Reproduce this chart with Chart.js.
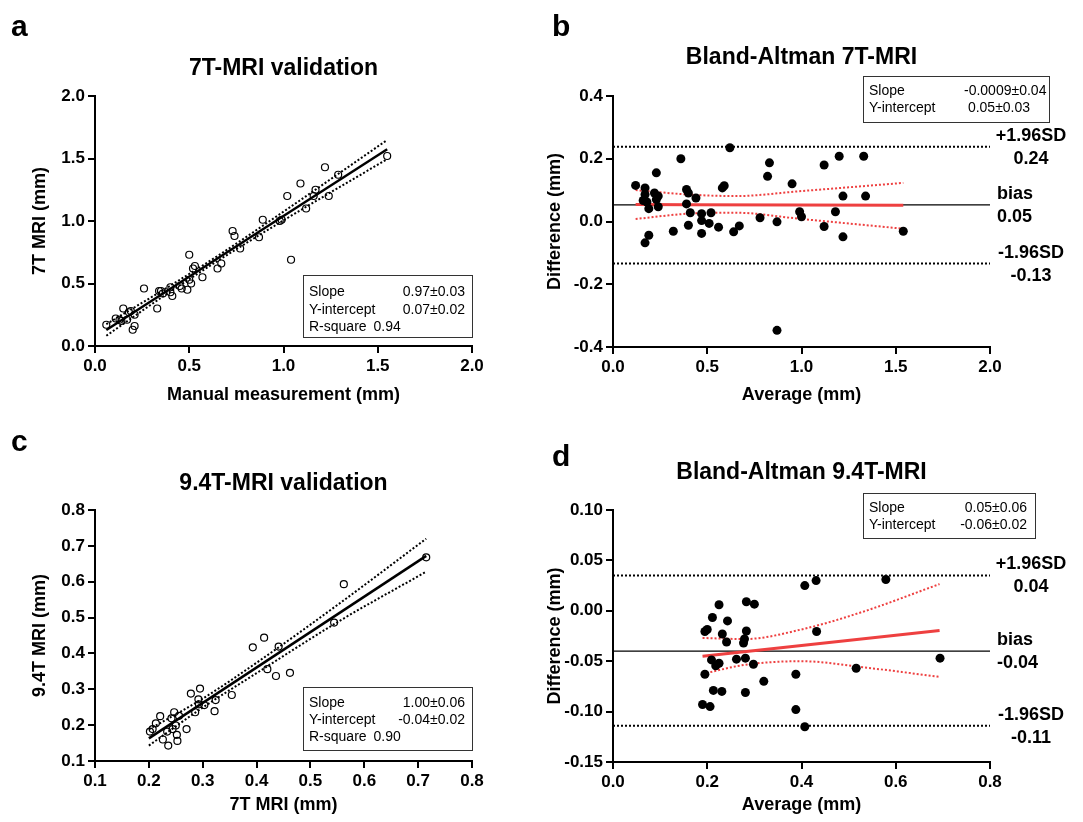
<!DOCTYPE html>
<html>
<head>
<meta charset="utf-8">
<title>7T / 9.4T MRI validation</title>
<script src="https://cdn.jsdelivr.net/npm/chart.js@4.4.0/dist/chart.umd.min.js"></script>
<style>
  html, body { margin: 0; padding: 0; background: #fff; }
  #page { position: relative; width: 1083px; height: 822px; overflow: hidden; }
  canvas { position: absolute; }
</style>
</head>
<body>
<div id="page">
  <canvas id="chartA" width="540" height="420" style="left:0px;top:0px"></canvas>
  <canvas id="chartB" width="543" height="420" style="left:540px;top:0px"></canvas>
  <canvas id="chartC" width="540" height="412" style="left:0px;top:410px"></canvas>
  <canvas id="chartD" width="543" height="412" style="left:540px;top:410px"></canvas>
</div>
<script>
const FONT = '"Liberation Sans", Arial, Helvetica, sans-serif';
const RED = 'rgb(238, 64, 64)';

// Panel a: manual measurement vs 7T MRI (mm)
const aX = [0.06, 0.11, 0.13, 0.14, 0.15, 0.17, 0.18, 0.19, 0.20, 0.21, 0.21, 0.26, 0.33, 0.34, 0.35, 0.36, 0.40, 0.40, 0.41, 0.45,
            0.46, 0.49, 0.50, 0.50, 0.51, 0.52, 0.53, 0.57, 0.65, 0.67, 0.73, 0.74, 0.77, 0.87, 0.89, 0.98, 0.99, 1.02, 1.04, 1.09,
            1.12, 1.16, 1.17, 1.22, 1.24, 1.29, 1.55];
const aY = [0.17, 0.22, 0.21, 0.20, 0.30, 0.21, 0.27, 0.28, 0.13, 0.16, 0.25, 0.46, 0.30, 0.44, 0.44, 0.42, 0.47, 0.43, 0.40, 0.48,
            0.46, 0.45, 0.73, 0.53, 0.50, 0.62, 0.64, 0.55, 0.62, 0.66, 0.92, 0.88, 0.78, 0.87, 1.01, 1.00, 1.01, 1.20, 0.69, 1.30,
            1.10, 1.20, 1.25, 1.43, 1.20, 1.37, 1.52];
const aFitX = [0.06, 1.55];
const aFitY = [0.128, 1.574];
const aBandX = [0.06, 0.35, 0.65, 1.0, 1.55];
const aBandUpper = [0.175, 0.437, 0.72, 1.075, 1.648];
const aBandLower = [0.082, 0.385, 0.68, 1.005, 1.495];

// Panel b: Bland-Altman 7T-MRI
const bAvg = [0.12, 0.17, 0.17, 0.16, 0.18, 0.19, 0.17, 0.19, 0.22, 0.23, 0.23, 0.24, 0.24, 0.32, 0.36, 0.39, 0.40, 0.39, 0.44, 0.41,
              0.40, 0.47, 0.47, 0.47, 0.51, 0.52, 0.56, 0.58, 0.59, 0.62, 0.64, 0.67, 0.78, 0.82, 0.83, 0.87, 0.87, 0.95, 0.99, 1.00,
              1.12, 1.12, 1.18, 1.20, 1.22, 1.22, 1.33, 1.34, 1.54];
const bDiff = [0.115, 0.107, 0.086, 0.067, 0.062, 0.041, -0.068, -0.044, 0.091, 0.155, 0.070, 0.081, 0.047, -0.031, 0.20, 0.102, 0.091, 0.056, 0.075, 0.028,
               -0.012, 0.025, 0.003, -0.038, -0.006, 0.028, -0.018, 0.107, 0.114, 0.235, -0.033, -0.014, 0.012, 0.144, 0.187, -0.001, -0.347, 0.12, 0.031, 0.015,
               0.18, -0.016, 0.031, 0.208, 0.081, -0.049, 0.208, 0.081, -0.031];
const bFitX = [0.12, 1.54];
const bFitY = [0.054, 0.052];
const bBandX = [0.12, 0.4, 0.65, 1.0, 1.54];
const bBandUpper = [0.100, 0.086, 0.081, 0.097, 0.123];
const bBandLower = [0.008, 0.025, 0.028, 0.008, -0.023];
const bRefX = [0, 2.0];
const bRefLines = [0.238, 0.053, -0.134];   // +1.96SD, bias, -1.96SD
const bRefLabels = [['+1.96SD', '0.24'], ['bias', '0.05'], ['-1.96SD', '-0.13']];

// Panel c: 7T MRI vs 9.4T MRI (mm)
const cX = [0.202, 0.207, 0.213, 0.221, 0.226, 0.234, 0.236, 0.242, 0.244, 0.247, 0.25, 0.252, 0.253, 0.256, 0.27, 0.278, 0.286, 0.292, 0.293, 0.295,
            0.303, 0.322, 0.324, 0.354, 0.393, 0.414, 0.42, 0.436, 0.441, 0.462, 0.544, 0.562, 0.715];
const cY = [0.182, 0.189, 0.205, 0.225, 0.160, 0.182, 0.143, 0.219, 0.189, 0.236, 0.199, 0.173, 0.156, 0.226, 0.189, 0.288, 0.236, 0.272, 0.258, 0.302,
            0.256, 0.239, 0.270, 0.284, 0.417, 0.444, 0.356, 0.337, 0.419, 0.346, 0.486, 0.593, 0.668];
const cFitX = [0.2, 0.715];
const cFitY = [0.163, 0.672];
const cBandX = [0.2, 0.3, 0.4, 0.55, 0.715];
const cBandUpper = [0.188, 0.274, 0.374, 0.535, 0.720];
const cBandLower = [0.143, 0.249, 0.345, 0.487, 0.628];

// Panel d: Bland-Altman 9.4T-MRI
const dAvg = [0.19, 0.206, 0.195, 0.20, 0.211, 0.225, 0.232, 0.243, 0.241, 0.209, 0.218, 0.225, 0.195, 0.213, 0.231, 0.262, 0.277, 0.279, 0.283, 0.283,
              0.30, 0.281, 0.298, 0.281, 0.32, 0.388, 0.388, 0.407, 0.431, 0.432, 0.407, 0.516, 0.579, 0.694];
const dDiff = [-0.093, -0.095, -0.0205, -0.0185, -0.0066, 0.006, -0.023, -0.010, -0.031, -0.0487, -0.0546, -0.052, -0.063, -0.079, -0.080, -0.048, -0.032, -0.028, -0.020, 0.009,
               0.0066, -0.047, -0.053, -0.081, -0.070, -0.063, -0.098, 0.025, 0.030, -0.0205, -0.115, -0.057, 0.031, -0.047];
const dFitX = [0.19, 0.693];
const dFitY = [-0.045, -0.0195];
const dBandX = [0.19, 0.28, 0.4, 0.53, 0.693];
const dBandUpper = [-0.027, -0.028, -0.0185, -0.001, 0.0265];
const dBandLower = [-0.0626, -0.0536, -0.050, -0.056, -0.0655];
const dRefX = [0, 0.8];
const dRefLines = [0.035, -0.040, -0.114];
const dRefLabels = [['+1.96SD', '0.04'], ['bias', '-0.04'], ['-1.96SD', '-0.11']];

// helpers
function pts(xs, ys) {
    return xs.map((x, i) => ({ x: x, y: ys[i] }));
}

function scatterSet(xs, ys, filled) {
    return {
        data: pts(xs, ys),
        showLine: false,
        pointStyle: 'circle',
        pointRadius: filled ? 4.5 : 3.5,
        pointBorderWidth: filled ? 0 : 1.2,
        pointBorderColor: '#000',
        pointBackgroundColor: filled ? '#000' : 'rgba(255,255,255,0)'
    };
}

function lineSet(xs, ys, color, width, dashed) {
    return {
        data: pts(xs, ys),
        showLine: true,
        pointRadius: 0,
        borderColor: color,
        borderWidth: width,
        borderDash: dashed ? [2, 2] : [],
        cubicInterpolationMode: 'monotone',
        fill: false
    };
}

function axis(min, max, step, digits, title) {
    return {
        type: 'linear',
        min: min,
        max: max,
        ticks: {
            stepSize: step,
            color: '#000',
            padding: 3,
            font: { family: FONT, size: 17, weight: 'bold' },
            callback: v => (Math.abs(v) < 1e-9 ? 0 : v).toFixed(digits)
        },
        grid: { drawOnChartArea: false, drawTicks: true, tickLength: 7, color: '#000', lineWidth: 2 },
        border: { display: true, color: '#000', width: 2 },
        title: { display: true, text: title, color: '#000', padding: 4, font: { family: FONT, size: 18, weight: 'bold' } }
    };
}

// letters, titles, stat boxes and the SD labels
const panelText = {
    id: 'panelText',
    afterDraw(chart, args, o) {
        const ctx = chart.ctx;
        const ca = chart.chartArea;
        ctx.save();
        ctx.fillStyle = '#000';

        ctx.font = 'bold 30px ' + FONT;
        ctx.textAlign = 'left';
        ctx.textBaseline = 'alphabetic';
        ctx.fillText(o.letter, o.letterX, o.letterY);

        ctx.font = 'bold 23px ' + FONT;
        ctx.textAlign = 'center';
        ctx.textBaseline = 'middle';
        ctx.fillText(o.title, (ca.left + ca.right) / 2, o.titleY);

        const b = o.box;
        ctx.fillStyle = '#fff';
        ctx.fillRect(b.x, b.y, b.w, b.h);
        ctx.strokeStyle = '#333';
        ctx.lineWidth = 1;
        ctx.strokeRect(b.x + 0.5, b.y + 0.5, b.w, b.h);
        ctx.fillStyle = '#000';
        ctx.font = '14px ' + FONT;
        b.rows.forEach((row, i) => {
            const y = b.y + b.rowY[i];
            ctx.textAlign = 'left';
            ctx.fillText(row[0], b.x + 6, y);
            if (row[1]) {
                ctx.textAlign = b.valueAlign;
                ctx.fillText(row[1], b.x + b.valueX, y);
            }
            if (row[2]) {
                // value written right after its label, as in "R-square  0.94"
                ctx.textAlign = 'left';
                ctx.fillText(row[2], b.x + 6 + ctx.measureText(row[0]).width + 7, y);
            }
        });

        if (o.refLines) {
            const ys = chart.scales.y;
            ctx.font = 'bold 18px ' + FONT;
            o.refLines.forEach((v, i) => {
                const py = ys.getPixelForValue(v);
                const lab = o.refLabels[i];
                if (i === 1) {
                    ctx.textAlign = 'left';
                    ctx.fillText(lab[0], o.biasX, py - 11);
                    ctx.fillText(lab[1], o.biasX, py + 12);
                } else {
                    ctx.textAlign = 'center';
                    ctx.fillText(lab[0], o.sdX, py - 11);
                    ctx.fillText(lab[1], o.sdX, py + 12);
                }
            });
        }
        ctx.restore();
    }
};

function makePanel(id, o) {
    const canvas = document.getElementById(id);
    const W = canvas.width, H = canvas.height;
    const titleOffset = 4 + 18 * 1.2 / 2;
    const padLeft = Math.max(0, o.yTitleX - titleOffset);
    const yWidth = o.area.left - padLeft;
    const xHeight = o.xTitleY + titleOffset - o.area.bottom;

    const xAxis = axis(o.x[0], o.x[1], o.x[2], o.x[3], o.xTitle);
    xAxis.afterFit = s => { s.height = xHeight; };
    const yAxis = axis(o.y[0], o.y[1], o.y[2], o.y[3], o.yTitle);
    yAxis.afterFit = s => { s.width = yWidth; };

    return new Chart(canvas, {
        type: 'scatter',
        data: { datasets: o.datasets },
        options: {
            responsive: false,
            animation: false,
            devicePixelRatio: 1,
            layout: {
                padding: {
                    left: padLeft,
                    right: W - o.area.right,
                    top: o.area.top,
                    bottom: H - o.area.bottom - xHeight
                }
            },
            scales: { x: xAxis, y: yAxis },
            plugins: {
                legend: { display: false },
                tooltip: { enabled: false },
                panelText: o.text
            }
        },
        plugins: [panelText]
    });
}

// a
makePanel('chartA', {
    area: { left: 95, right: 472, top: 96, bottom: 346 },
    yTitleX: 40, xTitleY: 395,
    x: [0, 2.0, 0.5, 1], y: [0, 2.0, 0.5, 1],
    xTitle: 'Manual measurement (mm)', yTitle: '7T MRI (mm)',
    datasets: [
        scatterSet(aX, aY, false),
        lineSet(aFitX, aFitY, '#000', 2.5, false),
        lineSet(aBandX, aBandUpper, '#000', 2, true),
        lineSet(aBandX, aBandLower, '#000', 2, true)
    ],
    text: {
        letter: 'a', letterX: 11, letterY: 36,
        title: '7T-MRI validation', titleY: 69,
        box: {
            x: 303, y: 275, w: 169, h: 62, rowY: [17, 35, 52],
            valueAlign: 'right', valueX: 162,
            rows: [['Slope', '0.97\u00b10.03'], ['Y-intercept', '0.07\u00b10.02'], ['R-square', '', '0.94']]
        }
    }
});

// b
makePanel('chartB', {
    area: { left: 73, right: 450, top: 96, bottom: 347 },
    yTitleX: 15, xTitleY: 395,
    x: [0, 2.0, 0.5, 1], y: [-0.4, 0.4, 0.2, 1],
    xTitle: 'Average (mm)', yTitle: 'Difference (mm)',
    datasets: [
        scatterSet(bAvg, bDiff, true),
        lineSet(bFitX, bFitY, RED, 3, false),
        lineSet(bBandX, bBandUpper, RED, 2, true),
        lineSet(bBandX, bBandLower, RED, 2, true),
        lineSet(bRefX, [bRefLines[0], bRefLines[0]], '#000', 2, true),
        lineSet(bRefX, [bRefLines[1], bRefLines[1]], '#000', 1.3, false),
        lineSet(bRefX, [bRefLines[2], bRefLines[2]], '#000', 2, true)
    ],
    text: {
        letter: 'b', letterX: 12, letterY: 36,
        title: 'Bland-Altman 7T-MRI', titleY: 58,
        box: {
            x: 323, y: 76, w: 186, h: 46, rowY: [15, 32],
            valueAlign: 'left', valueX: 101,
            rows: [['Slope', '-0.0009\u00b10.04'], ['Y-intercept', ' 0.05\u00b10.03']]
        },
        refLines: bRefLines, refLabels: bRefLabels, sdX: 491, biasX: 457
    }
});

// c
makePanel('chartC', {
    area: { left: 95, right: 472, top: 100, bottom: 351 },
    yTitleX: 40, xTitleY: 395,
    x: [0.1, 0.8, 0.1, 1], y: [0.1, 0.8, 0.1, 1],
    xTitle: '7T MRI (mm)', yTitle: '9.4T MRI (mm)',
    datasets: [
        scatterSet(cX, cY, false),
        lineSet(cFitX, cFitY, '#000', 2.5, false),
        lineSet(cBandX, cBandUpper, '#000', 2, true),
        lineSet(cBandX, cBandLower, '#000', 2, true)
    ],
    text: {
        letter: 'c', letterX: 11, letterY: 41,
        title: '9.4T-MRI validation', titleY: 74,
        box: {
            x: 303, y: 277, w: 169, h: 63, rowY: [16, 33, 50],
            valueAlign: 'right', valueX: 162,
            rows: [['Slope', '1.00\u00b10.06'], ['Y-intercept', '-0.04\u00b10.02'], ['R-square', '', '0.90']]
        }
    }
});

// d
makePanel('chartD', {
    area: { left: 73, right: 450, top: 100, bottom: 352 },
    yTitleX: 15, xTitleY: 395,
    x: [0, 0.8, 0.2, 1], y: [-0.15, 0.10, 0.05, 2],
    xTitle: 'Average (mm)', yTitle: 'Difference (mm)',
    datasets: [
        scatterSet(dAvg, dDiff, true),
        lineSet(dFitX, dFitY, RED, 3, false),
        lineSet(dBandX, dBandUpper, RED, 2, true),
        lineSet(dBandX, dBandLower, RED, 2, true),
        lineSet(dRefX, [dRefLines[0], dRefLines[0]], '#000', 2, true),
        lineSet(dRefX, [dRefLines[1], dRefLines[1]], '#000', 1.3, false),
        lineSet(dRefX, [dRefLines[2], dRefLines[2]], '#000', 2, true)
    ],
    text: {
        letter: 'd', letterX: 12, letterY: 56,
        title: 'Bland-Altman 9.4T-MRI', titleY: 63,
        box: {
            x: 323, y: 83, w: 172, h: 45, rowY: [15, 32],
            valueAlign: 'right', valueX: 164,
            rows: [['Slope', '0.05\u00b10.06'], ['Y-intercept', '-0.06\u00b10.02']]
        },
        refLines: dRefLines, refLabels: dRefLabels, sdX: 491, biasX: 457
    }
});
</script>
</body>
</html>
